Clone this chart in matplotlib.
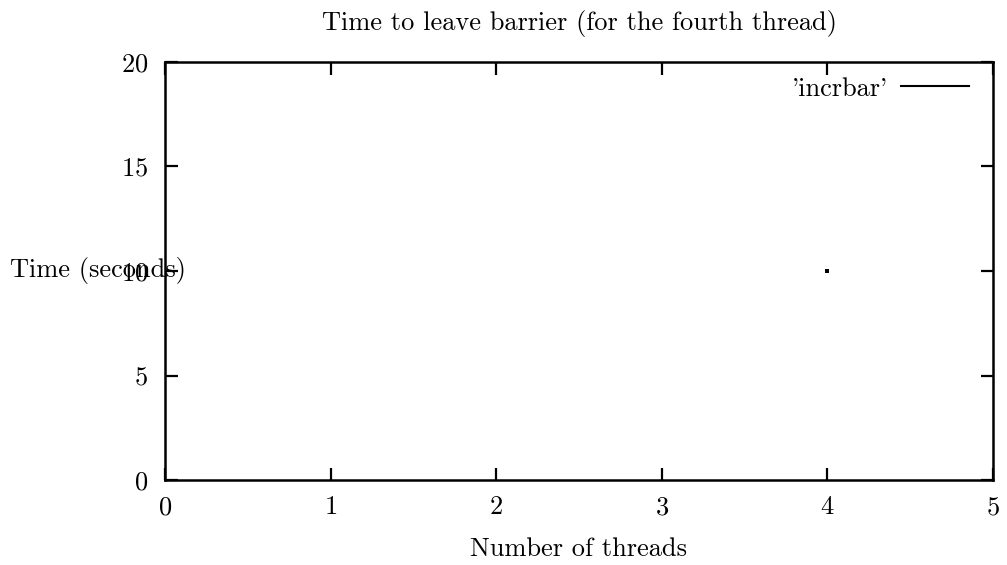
import matplotlib
matplotlib.use("Agg")
import matplotlib.pyplot as plt
from matplotlib.lines import Line2D

threads = [4]
times = [10]
series_label = "'incrbar'"
xticks = [0, 1, 2, 3, 4, 5]
yticks = [0, 5, 10, 15, 20]

plt.rcParams['font.family'] = ['cmr10', 'DejaVu Serif']
plt.rcParams['axes.formatter.use_mathtext'] = True
FS = 19

fig = plt.figure(figsize=(10.07, 5.65), dpi=100)
W, H = 1007, 565
ax = fig.add_axes([165 / W, 1 - 480 / H, (993 - 165) / W, (480 - 62) / H])

ax.plot(threads, times, color='black', linestyle='-', marker='s',
        markersize=2.5, markeredgewidth=0)

ax.set_xlim(0, 5)
ax.set_ylim(0, 20)
ax.set_xticks(xticks)
ax.set_yticks(yticks)
ax.tick_params(direction='in', length=9, width=1.6, top=True, right=True,
               labelsize=FS, pad=12, color='black')
ax.tick_params(axis='x', pad=11)
for s in ax.spines.values():
    s.set_linewidth(1.8)

ax.set_title("Time to leave barrier (for the fourth thread)", fontsize=FS, pad=23)
ax.set_xlabel("Number of threads", fontsize=FS, labelpad=13)
fig.text(10 / W, 1 - 270 / H, "Time (seconds)", fontsize=FS, ha='left', va='center')

handle = Line2D([0], [0], color='black', linewidth=1.5)
ax.legend([handle], [series_label], loc='upper right', frameon=False,
          markerfirst=False, fontsize=FS, handlelength=2.6, handletextpad=0.5,
          borderaxespad=0.4, bbox_to_anchor=(0.997, 1.015))

fig.savefig("out.png", dpi=100)
